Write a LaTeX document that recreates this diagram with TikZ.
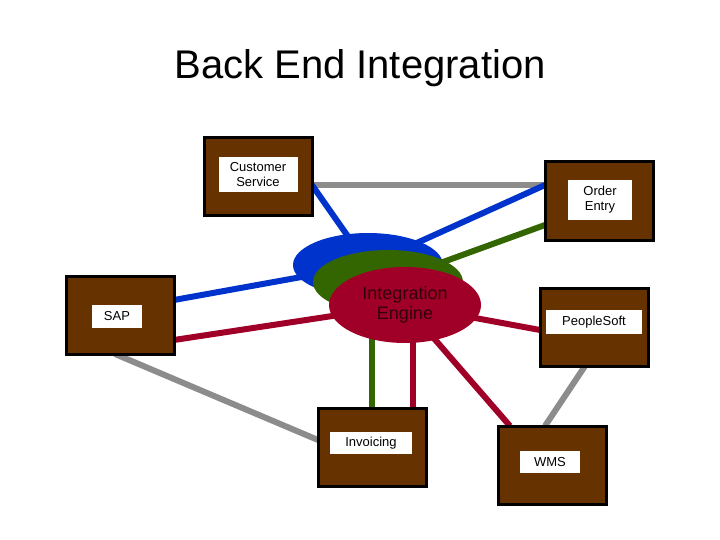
\documentclass[tikz,border=0pt]{standalone}
\usepackage{fontspec}
\setmainfont{Liberation Sans}
\usetikzlibrary{shapes.geometric}
\definecolor{brownbox}{RGB}{102,51,0}
\definecolor{engblue}{RGB}{0,51,204}
\definecolor{enggreen}{RGB}{51,102,0}
\definecolor{engred}{RGB}{160,0,40}
\definecolor{linkgray}{RGB}{140,140,140}
\tikzset{
  sys/.style={draw=black, line width=3pt, fill=brownbox, minimum width=108pt, minimum height=78pt, inner sep=0pt},
  tag/.style={fill=white, font=\fontsize{13}{15}\selectfont, align=center, inner sep=2pt},
  link/.style={line width=6pt}
}
\begin{document}
\begin{tikzpicture}[x=1pt,y=-1pt]
		\useasboundingbox (0,0) rectangle (720,540);
		\node[font=\fontsize{40}{44}\selectfont] (title) at (360,68) {Back End Integration};
		% engine points
		\coordinate (blue) at (368,265);
		\coordinate (green) at (388,282);
		\coordinate (red) at (405,305);
		\coordinate (invg) at (372,330);
		\coordinate (invr) at (413,330);
		% links
		\draw[link, linkgray] (312,185) coordinate (cs1) -- (545,185) coordinate (oe1);
		\draw[link, engblue] (cs1) -- (blue);
		\draw[link, engblue] (oe1) -- (blue);
		\draw[link, engblue] (174,300) coordinate (sap1) -- (blue);
		\draw[link, enggreen] (545,225) coordinate (oe2) -- (green);
		\draw[link, engred] (174,340) coordinate (sap2) -- (red);
		\draw[link, engred] (540,330) coordinate (ps1) -- (red);
		\draw[link, enggreen] (372,408) coordinate (inv1) -- (invg);
		\draw[link, engred] (413,408) coordinate (inv2) -- (invr);
		\draw[link, engred] (510,426) coordinate (wms1) -- (red);
		\draw[link, linkgray] (115,354) coordinate (sap3) -- (318,440) coordinate (inv3);
		\draw[link, linkgray] (585,366) coordinate (ps2) -- (545,426) coordinate (wms2);
		% engine
		\node[ellipse, fill=engblue, minimum width=150pt, minimum height=64pt] (eblue) at (blue) {};
		\node[ellipse, fill=enggreen, minimum width=150pt, minimum height=64pt] (egreen) at (green) {};
		\node[ellipse, fill=engred, minimum width=152pt, minimum height=76pt, align=center,
		  font=\fontsize{18}{20}\selectfont, text=black!70!engred] (engine) at (red) {Integration\\Engine};
		% systems
		\node[sys] (cs) at (258,177) {};
		\node[tag, minimum width=79pt, minimum height=35pt] at (258,175) {Customer\\Service};
		\node[sys] (oe) at (599,201) {};
		\node[tag, minimum width=64pt, minimum height=40pt] at (600,200) {Order\\Entry};
		\node[sys] (sap) at (120,315) {};
		\node[tag, minimum width=50pt, minimum height=23pt] at (117,316) {SAP};
		\node[sys] (ps) at (594,327) {};
		\node[tag, minimum width=96pt, minimum height=24pt] at (594,322) {PeopleSoft};
		\node[sys] (inv) at (372,447) {};
		\node[tag, minimum width=82pt, minimum height=22pt] at (371,443) {Invoicing};
		\node[sys] (wms) at (552,465) {};
		\node[tag, minimum width=60pt, minimum height=22pt] at (550,462) {WMS};
	\end{tikzpicture}
\end{document}
